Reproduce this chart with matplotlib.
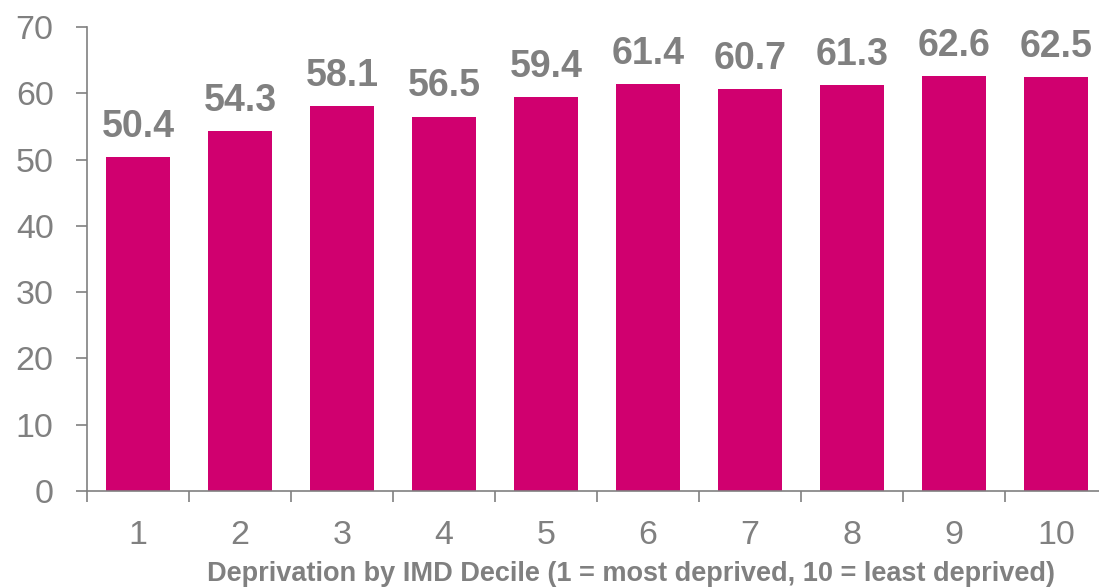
import matplotlib
matplotlib.use('Agg')
from matplotlib import pyplot as plt
import numpy as np

plt.rcParams['font.family'] = ['Liberation Sans', 'DejaVu Sans']

# data
deciles = ['1', '2', '3', '4', '5', '6', '7', '8', '9', '10']
values = [50.4, 54.3, 58.1, 56.5, 59.4, 61.4, 60.7, 61.3, 62.6, 62.5]

bar_col = '#D0006F'
grey = '#808080'

fig = plt.figure(figsize=(10.99, 5.88), dpi=100)
ax = fig.add_axes([0.0792, 0.165, 0.928, 0.789])

x = np.arange(len(deciles))
bars = ax.bar(x, values, width=0.63, color=bar_col, zorder=2)

for xi, v in zip(x, values):
    ax.annotate('%.1f' % v, (xi, v), xytext=(0, 14.5), textcoords='offset points',
                ha='center', va='baseline', fontsize=27, fontweight='bold', color=grey)

ax.set_xlim(-0.5, len(deciles) - 0.5)
ax.set_ylim(0, 70)
ax.set_yticks(range(0, 71, 10))
ax.set_xticks(x)
ax.set_xticklabels(deciles)
ax.set_xticks(np.arange(-0.5, len(deciles), 1), minor=True)

ax.tick_params(axis='y', labelsize=24.5, colors=grey, length=8, width=1.2, pad=16)
ax.tick_params(axis='x', which='major', length=0, labelsize=24.5, labelcolor=grey, pad=21)
ax.tick_params(axis='x', which='minor', length=8, width=1.2, color=grey)

for s in ['top', 'right']:
    ax.spines[s].set_visible(False)
for s in ['left', 'bottom']:
    ax.spines[s].set_color(grey)
    ax.spines[s].set_linewidth(1.2)

fig.text(0.574, 0.012, 'Deprivation by IMD Decile (1 = most deprived, 10 = least deprived)',
         ha='center', va='baseline', fontsize=19.5, fontweight='bold', color=grey)

fig.savefig('out.png', dpi=100)
